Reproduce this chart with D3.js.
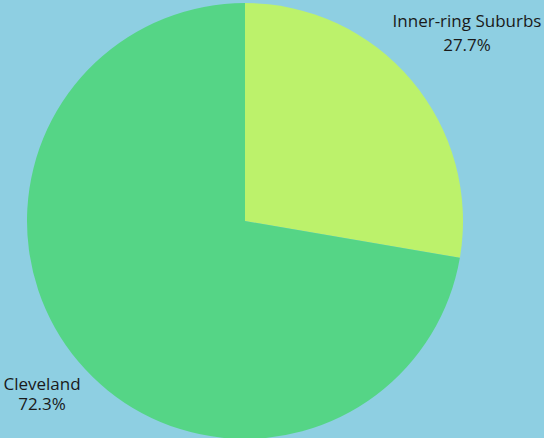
<!DOCTYPE html>
<html><head><meta charset="utf-8">
<script src="https://cdn.jsdelivr.net/npm/d3@7"></script>
<style>html,body{margin:0;padding:0;background:#8ecfe2;}</style>
</head><body><svg id="c" width="544" height="438"></svg>
<script>
const categories = ["Inner-ring Suburbs", "Cleveland"];
const values = [27.7, 72.3];
const labels = ["27.7%", "72.3%"];
const colors = ["#bcf26b", "#55d586"];

const svg = d3.select("#c");
svg.append("rect").attr("width",544).attr("height",438).attr("fill","#8ecfe2");
const cx = 245, cy = 221, r = 218;
const pie = d3.pie().sort(null).value(d=>d)(values);
const arc = d3.arc().innerRadius(0).outerRadius(r);
const g = svg.append("g").attr("transform",`translate(${cx},${cy})`);
g.selectAll("path").data(pie).enter().append("path")
  .attr("d",arc).attr("fill",(d,i)=>colors[i]);

// [x, baseline of name, baseline of percent]
const labelPos = [[467, 27, 51], [42, 390, 409.5]];
const font = sel => sel.attr("text-anchor","middle")
  .style("font-family","'Open Sans'").style("font-size","17px").attr("fill","#1a1a1a");
svg.selectAll("text.name").data(categories).enter().append("text")
  .attr("class","name")
  .attr("x",(d,i)=>labelPos[i][0]).attr("y",(d,i)=>labelPos[i][1])
  .call(font).text(d=>d);
svg.selectAll("text.pct").data(labels).enter().append("text")
  .attr("class","pct")
  .attr("x",(d,i)=>labelPos[i][0]).attr("y",(d,i)=>labelPos[i][2])
  .call(font).text(d=>d);
</script></body></html>
